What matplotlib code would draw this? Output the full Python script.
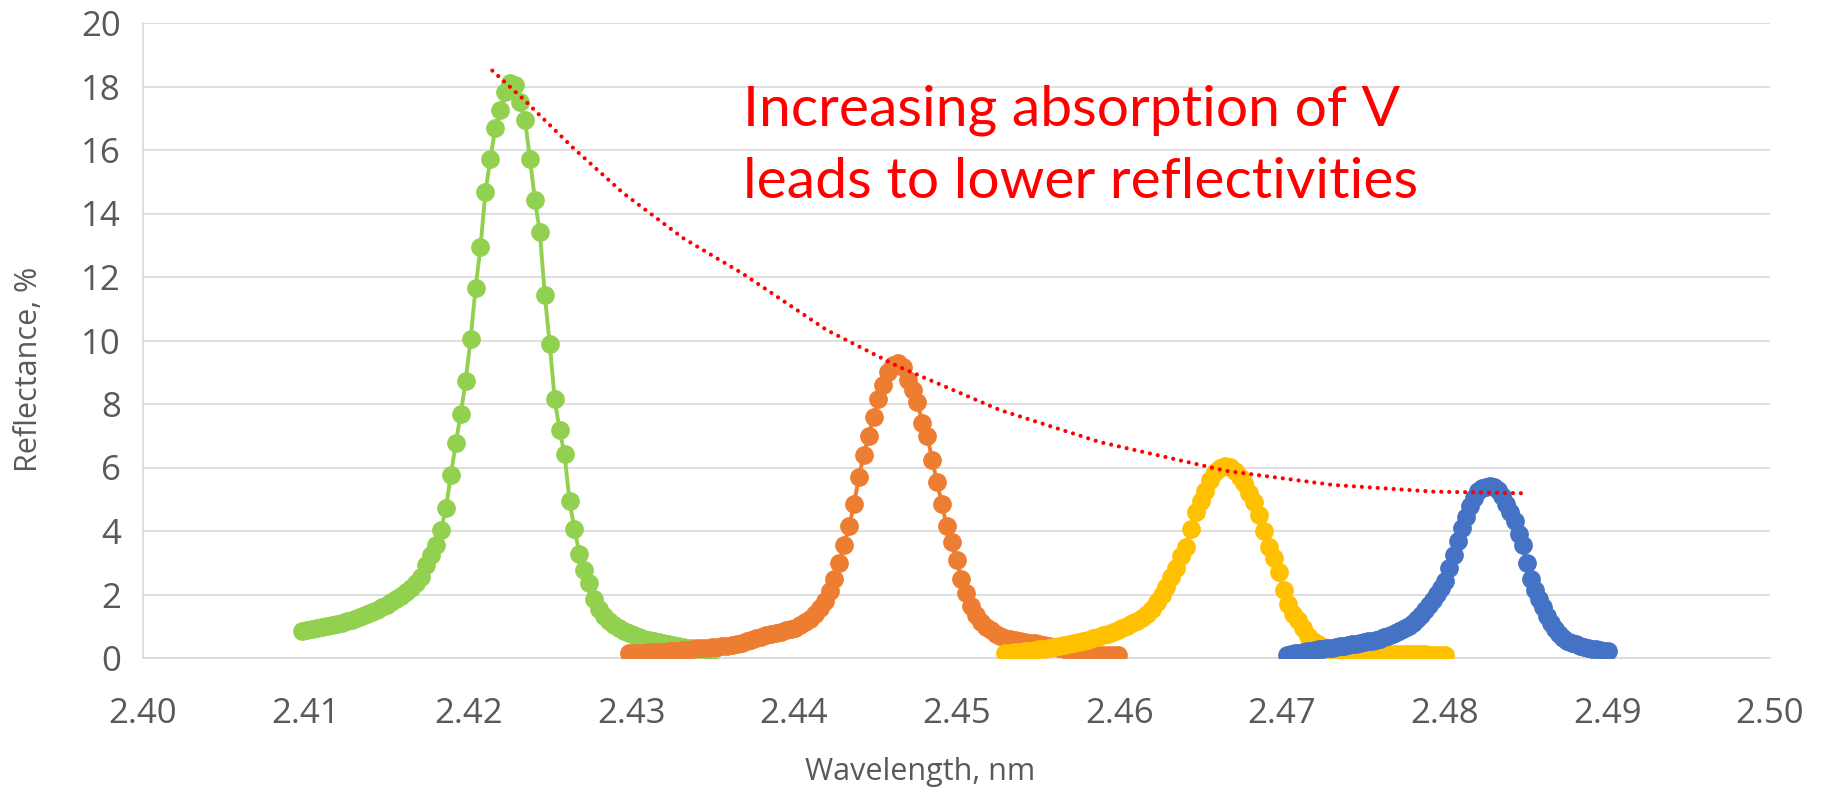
import numpy as np
import matplotlib.pyplot as plt

# Reflectance spectra (%), sampled on a uniform wavelength grid (nm)
green_range = [2.4098, 2.43503]
green_refl = [0.85, 0.88, 0.91, 0.94, 0.97, 1.00, 1.03, 1.07, 1.11, 1.16,
              1.21, 1.26, 1.32, 1.38, 1.45, 1.52, 1.60, 1.68, 1.77, 1.87,
              1.96, 2.07, 2.20, 2.35, 2.55, 2.92, 3.24, 3.55, 4.02, 4.71,
              5.76, 6.76, 7.69, 8.72, 10.05, 11.64, 12.95, 14.68, 15.73, 16.70,
              17.26, 17.84, 18.12, 18.05, 17.50, 16.94, 15.73, 14.42, 13.42, 11.43,
              9.88, 8.15, 7.18, 6.41, 4.94, 4.06, 3.29, 2.78, 2.37, 1.85,
              1.55, 1.33, 1.17, 1.04, 0.94, 0.85, 0.78, 0.71, 0.66, 0.61,
              0.57, 0.53, 0.49, 0.46, 0.43, 0.40, 0.37, 0.35, 0.33, 0.31,
              0.29, 0.27, 0.26, 0.25]

orange_range = [2.4299, 2.4599]
orange_refl = [0.15, 0.16, 0.17, 0.17, 0.18, 0.19, 0.20, 0.20, 0.21, 0.22,
               0.23, 0.24, 0.26, 0.28, 0.30, 0.31, 0.32, 0.34, 0.35, 0.37,
               0.39, 0.41, 0.44, 0.48, 0.52, 0.57, 0.62, 0.67, 0.72, 0.76,
               0.80, 0.83, 0.87, 0.91, 0.96, 1.03, 1.12, 1.23, 1.38, 1.56,
               1.80, 2.10, 2.50, 3.00, 3.55, 4.15, 4.85, 5.70, 6.40, 7.00,
               7.60, 8.15, 8.60, 9.00, 9.22, 9.30, 9.15, 8.75, 8.45, 8.05,
               7.40, 7.00, 6.25, 5.55, 4.85, 4.15, 3.65, 3.10, 2.50, 2.05,
               1.65, 1.35, 1.12, 0.98, 0.87, 0.76, 0.68, 0.63, 0.59, 0.56,
               0.53, 0.50, 0.48, 0.46, 0.44, 0.41, 0.38, 0.35, 0.32, 0.28,
               0.25, 0.22, 0.19, 0.17, 0.14, 0.12, 0.11, 0.10, 0.10, 0.10,
               0.10]

yellow_range = [2.4530, 2.4800]
yellow_refl = [0.15, 0.17, 0.18, 0.20, 0.21, 0.23, 0.25, 0.27, 0.29, 0.31,
               0.34, 0.37, 0.40, 0.43, 0.46, 0.50, 0.54, 0.58, 0.62, 0.67,
               0.71, 0.76, 0.81, 0.87, 0.94, 1.01, 1.09, 1.18, 1.27, 1.38,
               1.55, 1.75, 2.00, 2.25, 2.55, 2.85, 3.20, 3.50, 4.05, 4.60,
               4.95, 5.25, 5.60, 5.85, 6.00, 6.05, 6.02, 5.90, 5.70, 5.50,
               5.20, 4.90, 4.50, 4.00, 3.50, 3.15, 2.70, 2.15, 1.70, 1.40,
               1.20, 0.95, 0.70, 0.55, 0.44, 0.36, 0.30, 0.26, 0.24, 0.22,
               0.20, 0.19, 0.18, 0.17, 0.16, 0.16, 0.15, 0.15, 0.14, 0.14,
               0.13, 0.13, 0.13, 0.12, 0.12, 0.12, 0.12, 0.11, 0.11, 0.11,
               0.11]

blue_range = [2.4703, 2.49005]
blue_refl = [0.11, 0.13, 0.15, 0.17, 0.19, 0.21, 0.23, 0.25, 0.27, 0.29,
             0.31, 0.33, 0.35, 0.37, 0.39, 0.41, 0.43, 0.45, 0.47, 0.49,
             0.52, 0.55, 0.58, 0.61, 0.65, 0.70, 0.75, 0.81, 0.87, 0.94,
             1.02, 1.11, 1.22, 1.36, 1.52, 1.68, 1.84, 2.02, 2.22, 2.42,
             2.85, 3.25, 3.70, 4.10, 4.45, 4.80, 5.05, 5.25, 5.35, 5.40,
             5.42, 5.38, 5.28, 5.10, 4.85, 4.60, 4.32, 3.90, 3.55, 3.00,
             2.50, 2.15, 1.85, 1.60, 1.32, 1.10, 0.90, 0.75, 0.63, 0.55,
             0.48, 0.43, 0.39, 0.35, 0.32, 0.29, 0.27, 0.25, 0.23, 0.21]

# dotted guide along the peak maxima
trend_wl = [2.42147, 2.42338, 2.42645, 2.42952, 2.43321, 2.43688, 2.44202,
            2.44642, 2.45267, 2.45882, 2.46661, 2.47316, 2.47931, 2.48474]
trend_refl = [18.50, 17.60, 16.06, 14.64, 13.22, 12.10, 10.33,
              9.18, 7.81, 6.80, 5.89, 5.45, 5.24, 5.19]

x_ticks = [2.40, 2.41, 2.42, 2.43, 2.44, 2.45, 2.46, 2.47, 2.48, 2.49, 2.50]
y_ticks = [0, 2, 4, 6, 8, 10, 12, 14, 16, 18, 20]

series = [
    (green_range, green_refl, '#92D050'),
    (orange_range, orange_refl, '#ED7D31'),
    (yellow_range, yellow_refl, '#FFC000'),
    (blue_range, blue_refl, '#4472C4'),
]

W, H = 1821, 794
fig = plt.figure(figsize=(W / 100, H / 100), dpi=100)
ax = fig.add_axes([143 / W, 1 - 658 / H, (1770 - 143) / W, (658 - 23) / H])

grid_col = '#D9D9D9'
text_col = '#595959'

for rng, refl, col in series:
    wl = np.linspace(rng[0], rng[1], len(refl))
    ax.plot(wl, refl, '-', color=col, lw=2.8, marker='o', ms=13.5,
            markeredgewidth=0, zorder=3)

ax.plot(trend_wl, trend_refl, color='#FF0000', lw=3.0,
        linestyle=(0, (0.01, 1.9)), dash_capstyle='round', zorder=4)

ax.set_xlim(2.40, 2.50)
ax.set_ylim(0, 20)
ax.set_xticks(x_ticks)
ax.set_xticklabels([f'{v:.2f}' for v in x_ticks])
ax.set_yticks(y_ticks)
ax.yaxis.grid(True, color=grid_col, lw=1.2)
ax.set_axisbelow(True)
for s in ['top', 'right']:
    ax.spines[s].set_visible(False)
for s in ['left', 'bottom']:
    ax.spines[s].set_color(grid_col)
    ax.spines[s].set_linewidth(1.2)
ax.tick_params(length=0, labelsize=25, labelcolor=text_col)
ax.tick_params(axis='y', pad=16)
ax.tick_params(axis='x', pad=28)
for lab in ax.get_xticklabels() + ax.get_yticklabels():
    lab.set_fontfamily('Open Sans')

fig.text(29 / W, 1 - 369 / H, 'Reflectance, %', rotation=90, ha='center',
         va='center', fontsize=22, color=text_col, family='Open Sans')
fig.text(920 / W, 1 - 772 / H, 'Wavelength, nm', ha='center', va='center',
         fontsize=22, color=text_col, family='Open Sans')

fig.text(743 / W, 1 - 125 / H, 'Increasing absorption of V', ha='left',
         va='baseline', fontsize=41, color='#FF0000', family='Lato')
fig.text(743 / W, 1 - 198 / H, 'leads to lower reflectivities', ha='left',
         va='baseline', fontsize=41, color='#FF0000', family='Lato')

fig.savefig('out.png', dpi=100)
